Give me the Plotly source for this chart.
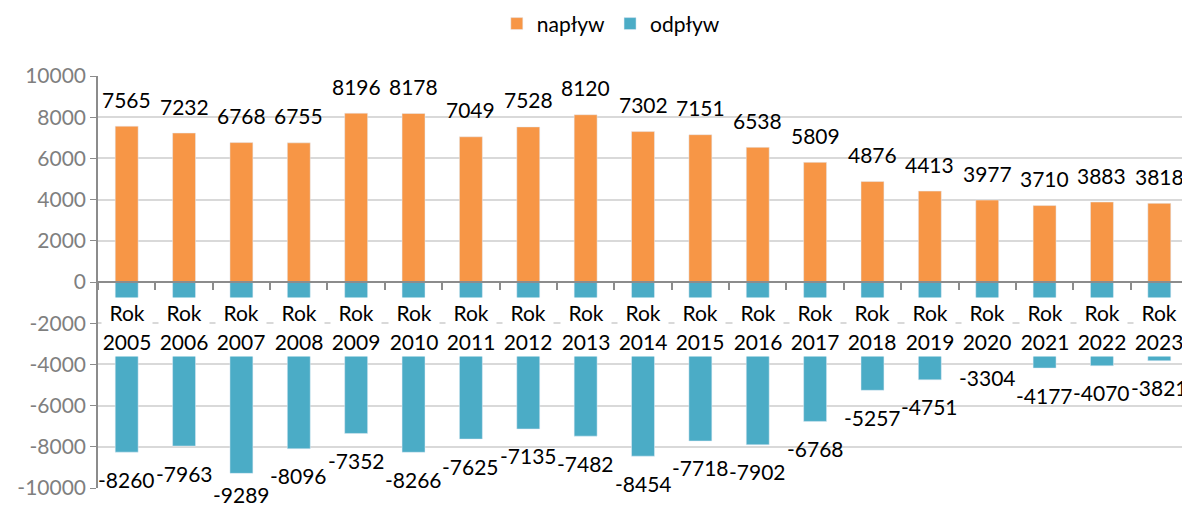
import plotly.graph_objects as go

years = [str(y) for y in range(2005, 2024)]
categories = ["Rok " + y for y in years]
cat_labels = ["Rok<br>" + y for y in years]
naplyw = [7565, 7232, 6768, 6755, 8196, 8178, 7049, 7528, 8120, 7302,
          7151, 6538, 5809, 4876, 4413, 3977, 3710, 3883, 3818]
odplyw = [-8260, -7963, -9289, -8096, -7352, -8266, -7625, -7135, -7482, -8454,
          -7718, -7902, -6768, -5257, -4751, -3304, -4177, -4070, -3821]
y_ticks = [-10000, -8000, -6000, -4000, -2000, 0, 2000, 4000, 6000, 8000, 10000]

FONT = "Lato"
ORANGE = "#F79646"
TEAL = "#4BACC6"

W, H = 1182, 498
M = dict(l=90, r=2, t=68, b=18)
Y_MIN, Y_MAX = -10000, 10000
px_per_unit = (H - M["t"] - M["b"]) / (Y_MAX - Y_MIN)

fig = go.Figure()
fig.add_trace(go.Bar(x=categories, y=naplyw, name="napływ", marker_color=ORANGE,
                     width=0.4, hoverinfo="x+y"))
fig.add_trace(go.Bar(x=categories, y=odplyw, name="odpływ", marker_color=TEAL,
                     width=0.4, hoverinfo="x+y"))

annotations = []
for x, v in zip(categories, naplyw):
    annotations.append(dict(x=x, y=v, xref="x", yref="y", text=str(v), showarrow=False,
                            yanchor="middle", yshift=27,
                            font=dict(family=FONT, size=21, color="#000000")))
for x, v in zip(categories, odplyw):
    # keep the label inside the figure, as the original does for the lowest bar
    room = (v - Y_MIN) * px_per_unit + M["b"] - 11
    shift = -min(27, room)
    annotations.append(dict(x=x, y=v, xref="x", yref="y", text=str(v), showarrow=False,
                            yanchor="middle", yshift=shift,
                            font=dict(family=FONT, size=21, color="#000000")))
for x, lab in zip(categories, cat_labels):
    annotations.append(dict(x=x, y=-2160, xref="x", yref="y",
                            text="<span style='font-size:21px'>" + lab.replace("<br>", "</span><br><span style='font-size:21px'>") + "</span>",
                            showarrow=False,
                            yanchor="middle", bgcolor="#FFFFFF", width=50, height=58,
                            borderpad=0, valign="middle",
                            font=dict(family=FONT, size=23, color="#000000")))

fig.update_layout(
    width=W, height=H,
    margin=M,
    paper_bgcolor="white", plot_bgcolor="white",
    barmode="relative",
    font=dict(family=FONT, size=21, color="#000000"),
    showlegend=True,
    legend=dict(orientation="h", xref="container", yref="container",
                x=0.51, xanchor="center", y=0.968, yanchor="middle",
                font=dict(family=FONT, size=21, color="#000000")),
    annotations=annotations,
    xaxis=dict(type="category", range=[-0.5, 18.5], anchor="free", position=0.5,
               showline=True, linecolor="#8C8C8C", linewidth=1.5,
               ticks="outside", tickson="boundaries", ticklen=7, tickcolor="#8C8C8C",
               tickwidth=1.5, showticklabels=False, showgrid=False, zeroline=False),
    yaxis=dict(range=[Y_MIN, Y_MAX], tickvals=y_ticks,
               ticktext=[str(t) for t in y_ticks],
               showgrid=True, gridcolor="#D9D9D9", gridwidth=1.5,
               zeroline=False, showline=True, linecolor="#8C8C8C", linewidth=1.5,
               ticks="outside", ticklen=6, tickcolor="#8C8C8C",
               tickfont=dict(family=FONT, size=21, color="#7F7F7F")),
)

fig.write_html("out.html")
